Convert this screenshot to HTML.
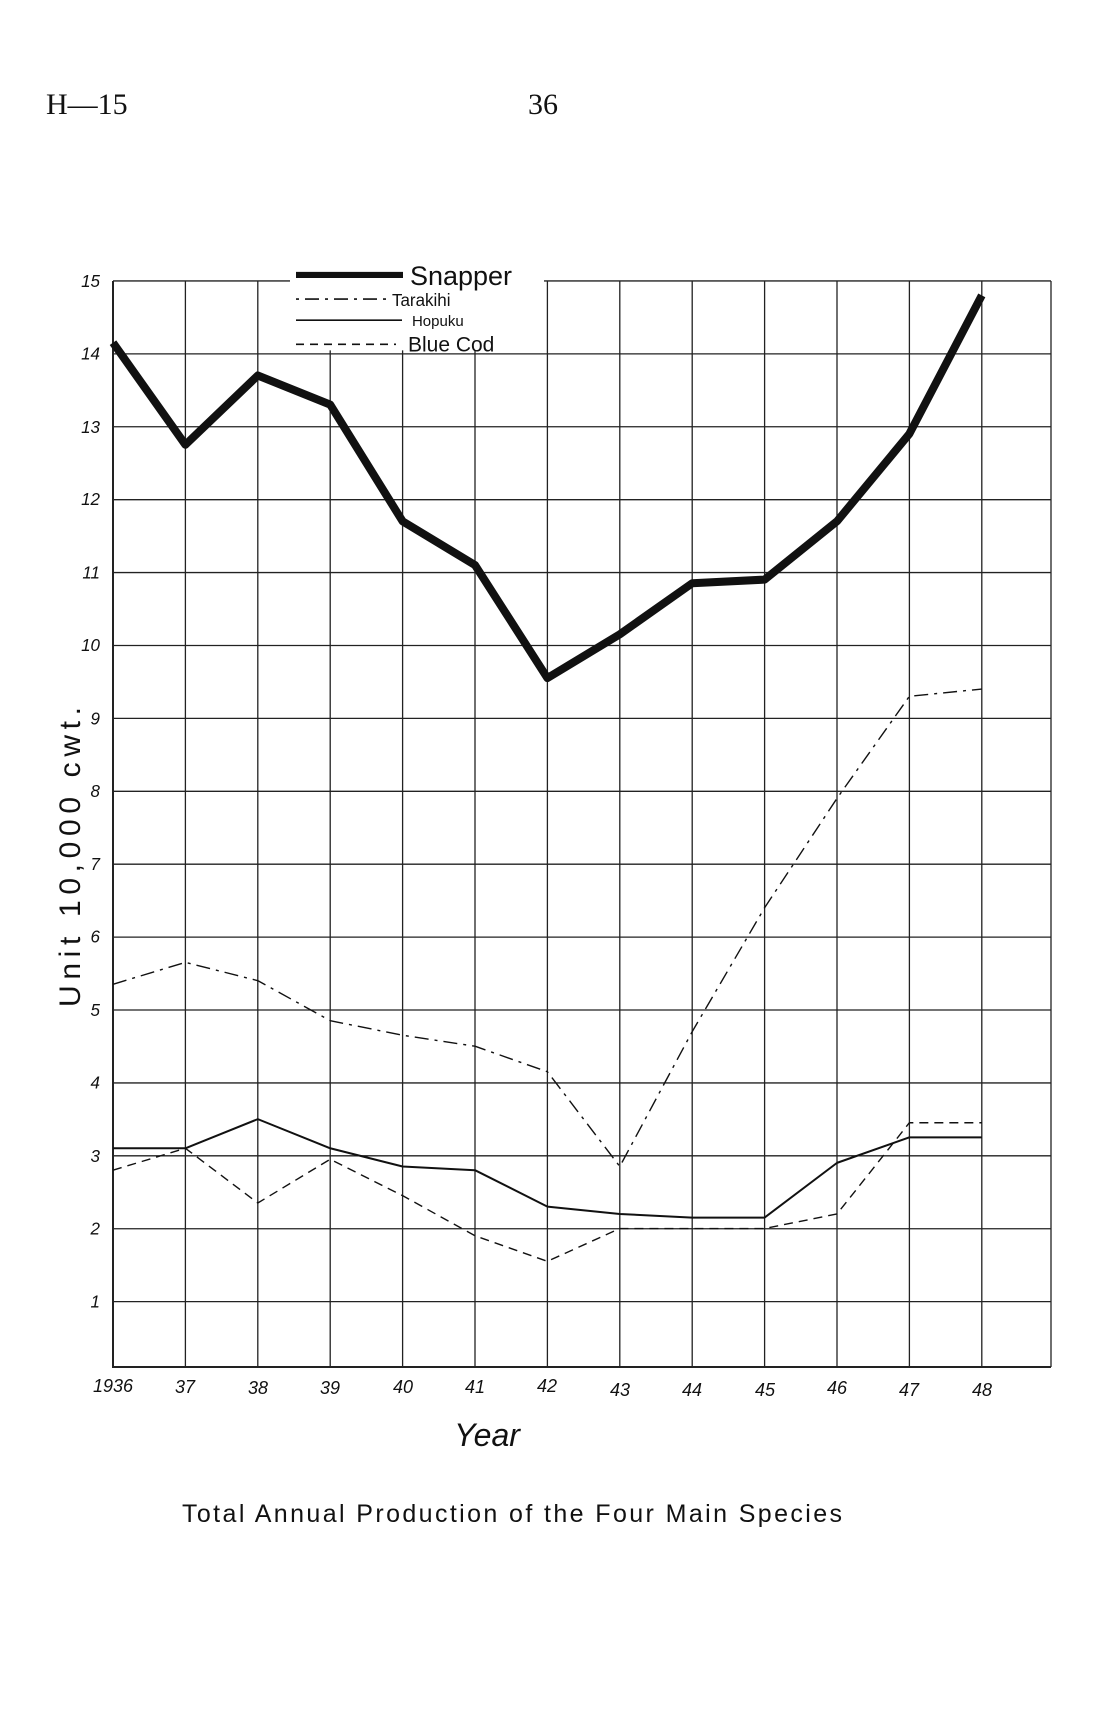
<!DOCTYPE html>
<html><head><meta charset="utf-8"><style>
html,body{margin:0;padding:0;background:#fff;}
svg{display:block;}
text{font-family:"Liberation Sans",sans-serif;fill:#111;}
</style></head><body>
<svg width="1114" height="1716" viewBox="0 0 1114 1716" xmlns="http://www.w3.org/2000/svg">
<text x="46" y="114" style="font-family:'Liberation Serif',serif" font-size="30">H—15</text>
<text x="543" y="114" text-anchor="middle" style="font-family:'Liberation Serif',serif" font-size="30">36</text>
<g transform="translate(0,1366) scale(1,1.0056) translate(0,-1366)">
<g stroke="#222" stroke-width="1.3" fill="none">
<path d="M113 287H1051 M113 359.5H1051 M113 432H1051 M113 504.5H1051 M113 577H1051 M113 649.5H1051 M113 722H1051 M113 794.5H1051 M113 867H1051 M113 939.5H1051 M113 1012H1051 M113 1084.5H1051 M113 1157H1051 M113 1229.5H1051 M113 1302H1051"/>
<path d="M185.4 287V1367 M257.8 287V1367 M330.2 287V1367 M402.6 287V1367 M475 287V1367 M547.4 287V1367 M619.8 287V1367 M692.2 287V1367 M764.6 287V1367 M837 287V1367 M909.4 287V1367 M981.8 287V1367 M1051 287V1367"/>
<path d="M113 287V1367H1051" stroke-width="2"/>
</g>
<rect x="290" y="272" width="254" height="84" fill="#fff"/>
<g font-style="italic" font-size="17" text-anchor="end">
<text x="100" y="293">15</text><text x="100" y="365">14</text><text x="100" y="438">13</text><text x="100" y="510">12</text><text x="100" y="583">11</text><text x="100" y="655">10</text><text x="100" y="728">9</text><text x="100" y="800">8</text><text x="100" y="873">7</text><text x="100" y="945">6</text><text x="100" y="1018">5</text><text x="100" y="1090">4</text><text x="100" y="1163">3</text><text x="100" y="1235">2</text><text x="100" y="1308">1</text>
</g>
<path d="M296 281H403" stroke="#111" stroke-width="6"/>
<path d="M296 305H388" stroke="#111" stroke-width="1.5" stroke-dasharray="3,6,14,6"/>
<path d="M296 326H402" stroke="#111" stroke-width="1.6"/>
<path d="M296 350H396" stroke="#111" stroke-width="1.5" stroke-dasharray="8,6"/>
<text x="410" y="291" font-size="27">Snapper</text>
<text x="392" y="312" font-size="17">Tarakihi</text>
<text x="412" y="332" font-size="15">Hopuku</text>
<text x="408" y="357" font-size="21">Blue Cod</text>
<g fill="none" stroke="#111" stroke-linejoin="round">
<polyline stroke-width="8" points="113,348.4 185.4,449.9 257.8,381 330.2,410 402.6,526 475,569.5 547.4,681.9 619.8,638.4 692.2,587.6 764.6,584 837,526 909.4,439 981.8,301.3"/>
<polyline stroke-width="1.4" stroke-dasharray="14,6,3,6" points="113,986.4 185.4,964.6 257.8,982.8 330.2,1022.6 402.6,1037.1 475,1048 547.4,1073.4 619.8,1167.6 692.2,1033.5 764.6,910.3 837,801.5 909.4,700 981.8,692.8"/>
<polyline stroke-width="2" points="113,1149.5 185.4,1149.5 257.8,1120.5 330.2,1149.5 402.6,1167.6 475,1171.3 547.4,1207.5 619.8,1214.8 692.2,1218.4 764.6,1218.4 837,1164 909.4,1138.6 981.8,1138.6"/>
<polyline stroke-width="1.4" stroke-dasharray="9,6" points="113,1171.3 185.4,1149.5 257.8,1203.9 330.2,1160.4 402.6,1196.6 475,1236.5 547.4,1261.9 619.8,1229.3 692.2,1229.3 764.6,1229.3 837,1214.8 909.4,1124.1 981.8,1124.1"/>
</g>
</g>
<g font-style="italic" font-size="18" text-anchor="middle">
<text x="113" y="1392">1936</text><text x="185" y="1393">37</text><text x="258" y="1394">38</text><text x="330" y="1394">39</text><text x="403" y="1393">40</text><text x="475" y="1393">41</text><text x="547" y="1392">42</text><text x="620" y="1396">43</text><text x="692" y="1396">44</text><text x="765" y="1396">45</text><text x="837" y="1394">46</text><text x="909" y="1396">47</text><text x="982" y="1396">48</text>
</g>
<text x="487" y="1446" text-anchor="middle" font-size="32" font-style="italic">Year</text>
<text x="512" y="1522" text-anchor="middle" font-size="25" textLength="660">Total Annual Production of the Four Main Species</text>
<text transform="translate(80,857) rotate(-90)" text-anchor="middle" font-size="30" textLength="300">Unit 10,000 cwt.</text>
</svg>
</body></html>
